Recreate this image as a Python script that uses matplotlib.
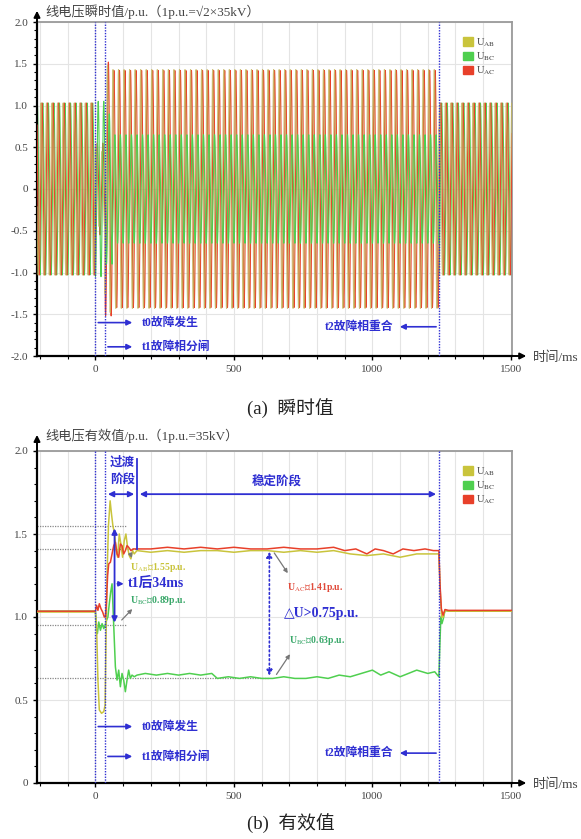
import numpy as np
import matplotlib.pyplot as plt
from matplotlib.patches import Patch
from matplotlib.ticker import MultipleLocator, FixedLocator, FuncFormatter

plt.rcParams['font.family'] = ['Liberation Serif', 'Noto Sans CJK SC']
plt.rcParams['mathtext.fontset'] = 'stix'

BLUE = '#2f2fd2'
C_AB = '#c9c43c'
C_BC = '#4fcf4f'
C_AC = '#e8402a'
GRAY = '#777777'

# ----------------------------
# Data (time in ms, voltage in p.u.)
# ----------------------------
t0_ms, t1_ms, t2_ms = 0, 35, 1240
t_stable = 150
x_min, x_max = -211, 1504

# instantaneous waveform: envelope amplitude per stage
stage_start = [-211, 0, 35, 60, 1240]
stage_end = [0, 35, 60, 1240, 1504]
amp_ab = [1.03, 0.45, 1.48, 1.43, 1.03]
amp_bc = [1.03, 1.05, 0.90, 0.65, 1.03]
amp_ac = [1.03, 0.55, 1.52, 1.42, 1.03]
phase_ab, phase_bc, phase_ac = 30, -90, -30
freq_hz = 50

# RMS curves
rms_ab_t = [-211, 0, 4, 9, 14, 22, 30, 35, 38, 42, 47, 53, 58, 63, 69, 75, 80, 86,
            92, 98, 104, 110, 116, 122, 128, 134, 140, 150, 200, 260, 320, 380, 440,
            500, 560, 620, 680, 740, 800, 860, 920, 980, 1040, 1100, 1160, 1220, 1240,
            1245, 1250, 1256, 1262, 1275, 1504]
rms_ab_v = [1.03, 1.03, 0.95, 0.62, 0.44, 0.42, 0.43, 0.47, 0.85, 1.25, 1.55, 1.70, 1.62,
            1.55, 1.50, 1.40, 1.36, 1.50, 1.44, 1.36, 1.46, 1.50, 1.42, 1.37, 1.35, 1.40,
            1.38, 1.40, 1.39, 1.40, 1.39, 1.40, 1.40, 1.39, 1.40, 1.40, 1.39, 1.40, 1.39,
            1.40, 1.38, 1.37, 1.38, 1.36, 1.38, 1.38, 1.38, 1.15, 1.00, 1.00, 1.04, 1.035,
            1.035]

rms_ac_t = [-211, 0, 4, 9, 14, 20, 26, 32, 36, 40, 44, 48, 54, 60, 66, 72, 78, 84, 90, 96,
            102, 108, 114, 120, 128, 136, 150, 200, 260, 320, 380, 440, 500, 560, 620, 680,
            740, 800, 860, 900, 940, 980, 1010, 1040, 1075, 1110, 1150, 1190, 1220, 1240,
            1244, 1249, 1255, 1262, 1275, 1504]
rms_ac_v = [1.035, 1.035, 1.07, 1.04, 1.08, 1.05, 1.03, 1.00, 1.00, 1.10, 1.25, 1.32, 1.33,
            1.38, 1.43, 1.45, 1.38, 1.36, 1.44, 1.43, 1.38, 1.40, 1.43, 1.42, 1.40, 1.41,
            1.41, 1.41, 1.42, 1.41, 1.42, 1.41, 1.42, 1.41, 1.41, 1.42, 1.41, 1.41, 1.42,
            1.40, 1.41, 1.38, 1.41, 1.40, 1.38, 1.41, 1.40, 1.41, 1.40, 1.40, 1.20, 1.05,
            1.01, 1.045, 1.04, 1.04]

rms_bc_t = [-211, 0, 3, 7, 12, 18, 24, 30, 35, 40, 45, 50, 55, 60, 66, 72, 78, 84, 90, 96,
            102, 108, 114, 120, 126, 132, 140, 150, 180, 220, 260, 300, 340, 380, 420, 440,
            480, 520, 560, 600, 640, 680, 720, 760, 800, 840, 880, 920, 960, 1000, 1030,
            1060, 1100, 1130, 1160, 1200, 1225, 1240, 1243, 1247, 1251, 1256, 1262, 1275,
            1504]
rms_bc_v = [1.035, 1.035, 0.93, 0.90, 0.97, 0.92, 0.96, 0.93, 0.95, 0.98, 1.00, 1.08, 1.15,
            1.20, 0.95, 0.70, 0.62, 0.68, 0.58, 0.66, 0.62, 0.55, 0.62, 0.68, 0.63, 0.65,
            0.64, 0.65, 0.66, 0.65, 0.66, 0.65, 0.66, 0.65, 0.66, 0.63, 0.64, 0.63, 0.64,
            0.63, 0.63, 0.64, 0.63, 0.63, 0.64, 0.63, 0.65, 0.64, 0.66, 0.68, 0.65, 0.67,
            0.64, 0.66, 0.68, 0.66, 0.67, 0.64, 0.80, 1.00, 0.96, 0.99, 1.04, 1.035, 1.035]

# key values marked on the RMS chart
ab_peak, bc_dip = 1.55, 0.95
ac_steady, bc_steady = 1.41, 0.63
t_mark1, t_mark2 = 69, 628


def waveform(amps, phase):
    t = np.arange(x_min, x_max, 0.1)
    amp = np.zeros_like(t)
    for s, e, a in zip(stage_start, stage_end, amps):
        amp[(t >= s) & (t < e)] = a
    return t, amp * np.sin(2 * np.pi * freq_hz * t / 1000 + np.deg2rad(phase))


def style_axes(ax, ymin, ymax, title, arrow_top):
    ax.set_xlim(x_min, x_max)
    ax.set_ylim(ymin, ymax)
    ax.xaxis.set_major_locator(FixedLocator([0, 500, 1000, 1500]))
    ax.xaxis.set_minor_locator(MultipleLocator(100))
    ax.yaxis.set_major_locator(MultipleLocator(0.5))
    ax.yaxis.set_minor_locator(MultipleLocator(0.1))
    ax.yaxis.set_major_formatter(FuncFormatter(lambda v, _: '0' if abs(v) < 1e-9 else f'{v:.1f}'))
    ax.tick_params(which='major', length=3, width=1, labelsize=8, labelcolor='#444444')
    ax.tick_params(which='minor', length=2, width=0.8)
    ax.grid(which='major', color='#e4e4e4', lw=0.8)
    ax.grid(which='minor', axis='x', color='#e4e4e4', lw=0.8)
    ax.set_axisbelow(True)
    for side in ['left', 'bottom']:
        ax.spines[side].set_color('black')
        ax.spines[side].set_linewidth(1.6)
    for side in ['top', 'right']:
        ax.spines[side].set_color('#9a9a9a')
        ax.spines[side].set_linewidth(1.3)
    ax.annotate('', xy=(0, arrow_top), xytext=(0, 0.99), xycoords='axes fraction',
                arrowprops=dict(arrowstyle='-|>', color='black', lw=1.4, mutation_scale=9),
                annotation_clip=False)
    ax.annotate('', xy=(1.036, 0), xytext=(0.99, 0), xycoords='axes fraction',
                arrowprops=dict(arrowstyle='-|>', color='black', lw=1.4, mutation_scale=9),
                annotation_clip=False)
    ax.text(0.018, arrow_top - 0.01, title, transform=ax.transAxes, fontsize=9.5,
            color='#444444', va='center', ha='left')
    ax.text(1.045, -0.005, '时间/ms', transform=ax.transAxes, fontsize=9.5,
            color='#444444', va='center', ha='left')
    for tm in [t0_ms, t1_ms, t2_ms]:
        ax.axvline(tm, color=BLUE, ls=(0, (1, 1)), lw=1.0, zorder=6)
    handles = [Patch(color=C_AB), Patch(color=C_BC), Patch(color=C_AC)]
    labels = [r'U$_{\mathrm{AB}}$', r'U$_{\mathrm{BC}}$', r'U$_{\mathrm{AC}}$']
    ax.legend(handles, labels, loc='upper right', bbox_to_anchor=(0.985, 0.985),
              frameon=False, fontsize=7.5, handlelength=0.9, handleheight=0.9,
              handletextpad=0.3, labelspacing=0.15, labelcolor='#444444')


def blue_arrow(ax, x_from, x_to, y, label, ha='left'):
    ax.annotate('', xy=(x_to, y), xytext=(x_from, y),
                arrowprops=dict(arrowstyle='-|>', color=BLUE, lw=1.2, mutation_scale=8))
    x_txt = x_to + 25 if ha == 'left' else x_to - 15
    ax.text(x_txt, y, label, color=BLUE, fontsize=8.5, fontweight='bold',
            family=['Liberation Serif', 'Noto Sans CJK SC'], va='center', ha=ha)


fig = plt.figure(figsize=(5.81, 8.39), dpi=100)
ax1 = fig.add_axes([37 / 581, 1 - 356 / 839, 475 / 581, 334 / 839])
ax2 = fig.add_axes([37 / 581, 1 - 783 / 839, 475 / 581, 332 / 839])

# ----------------------------
# (a) instantaneous values
# ----------------------------
t, v_bc = waveform(amp_bc, phase_bc)
_, v_ac = waveform(amp_ac, phase_ac)
_, v_ab = waveform(amp_ab, phase_ab)
fault = (t >= t0_ms) & (t < t2_ms)
ax1.plot(t, np.where(fault, np.nan, v_bc), color=C_BC, lw=0.8, zorder=2)
ax1.plot(t, v_ac, color=C_AC, lw=0.8, zorder=3)
ax1.plot(t, v_ab, color='#c2b45a', lw=0.8, alpha=0.8, zorder=4)
ax1.plot(t, np.where(fault, v_bc, np.nan), color=C_BC, lw=0.8, zorder=5)
style_axes(ax1, -2.0, 2.0, '线电压瞬时值/p.u.（1p.u.=√2×35kV）', 1.042)
blue_arrow(ax1, t0_ms, 143, -1.60, 't0故障发生')
blue_arrow(ax1, t1_ms, 143, -1.89, 't1故障相分闸')
blue_arrow(ax1, t2_ms, 1089, -1.65, 't2故障相重合', ha='right')

# ----------------------------
# (b) RMS values
# ----------------------------
ax2.plot(rms_bc_t, rms_bc_v, color=C_BC, lw=1.1, zorder=3)
ax2.plot(rms_ab_t, rms_ab_v, color=C_AB, lw=1.1, zorder=3)
ax2.plot(rms_ac_t, rms_ac_v, color=C_AC, lw=1.1, zorder=3)
style_axes(ax2, 0, 2.0, '线电压有效值/p.u.（1p.u.=35kV）', 1.057)

# reference dotted levels
for lvl, x_end in [(ab_peak, 110), (ac_steady, 150), (bc_dip, 115), (bc_steady, t_mark2)]:
    ax2.plot([x_min, x_end], [lvl, lvl], color='#888888', ls=(0, (1, 1)), lw=0.9, zorder=2)

# stage arrows
arr2 = dict(arrowstyle='<|-|>', color=BLUE, lw=1.3, mutation_scale=8)
ax2.annotate('', xy=(t_stable, 1.74), xytext=(t1_ms, 1.74), arrowprops=arr2)
ax2.annotate('', xy=(t2_ms, 1.74), xytext=(t_stable, 1.74), arrowprops=arr2)
ax2.plot([t_stable, t_stable], [ac_steady, 1.95], color=BLUE, lw=1.3, zorder=5)
ax2.text((t1_ms + t_stable) / 2 + 5, 1.93, '过渡', color=BLUE, fontsize=9,
         family=['Noto Sans CJK SC'], fontweight='bold', ha='center', va='center')
ax2.text((t1_ms + t_stable) / 2 + 5, 1.83, '阶段', color=BLUE, fontsize=9,
         family=['Noto Sans CJK SC'], fontweight='bold', ha='center', va='center')
ax2.text(655, 1.81, '稳定阶段', color=BLUE, fontsize=9, family=['Noto Sans CJK SC'],
         fontweight='bold', ha='center', va='center')

# difference markers
ax2.annotate('', xy=(t_mark1, ab_peak), xytext=(t_mark1, bc_dip),
             arrowprops=dict(arrowstyle='<|-|>', color=BLUE, lw=1.3, mutation_scale=8))
ax2.annotate('', xy=(t_mark2, ac_steady), xytext=(t_mark2, bc_steady),
             arrowprops=dict(arrowstyle='<|-|>', color=BLUE, lw=1.2, ls=':', mutation_scale=8))
ax2.annotate('', xy=(112, 1.2), xytext=(t_mark1, 1.2),
             arrowprops=dict(arrowstyle='-|>', color=BLUE, lw=1.2, mutation_scale=7))
ax2.text(118, 1.2, 't1后34ms', color=BLUE, fontsize=10, fontweight='bold',
         family=['Liberation Serif', 'Noto Sans CJK SC'], va='center')
ax2.text(680, 1.02, '△U>0.75p.u.', color=BLUE, fontsize=10, fontweight='bold',
         family=['Liberation Serif', 'DejaVu Sans'], va='center')

# value labels with pointer arrows
gray_arrow = dict(arrowstyle='-|>', color=GRAY, lw=0.9, mutation_scale=6)
ax2.annotate('', xy=(135, 1.34), xytext=(122, 1.40), arrowprops=gray_arrow)
ax2.text(125, 1.30, r'U$_{\mathrm{AB}}$：1.55p.u.', color=C_AB, fontsize=7, fontweight='bold',
         va='center')
ax2.annotate('', xy=(140, 1.06), xytext=(88, 0.97), arrowprops=gray_arrow)
ax2.text(125, 1.10, r'U$_{\mathrm{BC}}$：0.89p.u.', color='#3aa86a', fontsize=7,
         fontweight='bold', va='center')
ax2.annotate('', xy=(700, 1.25), xytext=(640, 1.40), arrowprops=gray_arrow)
ax2.text(690, 1.18, r'U$_{\mathrm{AC}}$：1.41p.u.', color='#e04a3a', fontsize=7,
         fontweight='bold', va='center')
ax2.annotate('', xy=(708, 0.79), xytext=(648, 0.64), arrowprops=gray_arrow)
ax2.text(700, 0.86, r'U$_{\mathrm{BC}}$约0.63p.u.', color='#3aa86a', fontsize=7,
         fontweight='bold', va='center')

blue_arrow(ax2, t0_ms, 143, 0.34, 't0故障发生')
blue_arrow(ax2, t1_ms, 143, 0.16, 't1故障相分闸')
blue_arrow(ax2, t2_ms, 1089, 0.18, 't2故障相重合', ha='right')

# captions
fig.text(0.5, 1 - 408 / 839, '(a)  瞬时值', ha='center', va='center', fontsize=13.5,
         color='#222222')
fig.text(0.5, 1 - 823 / 839, '(b)  有效值', ha='center', va='center', fontsize=13.5,
         color='#222222')

fig.savefig('out.png', dpi=100)
